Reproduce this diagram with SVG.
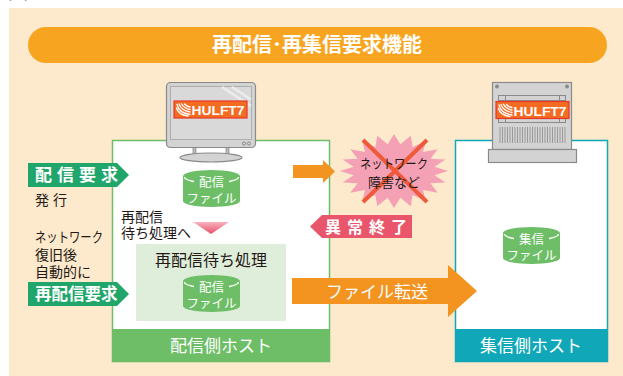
<svg xmlns="http://www.w3.org/2000/svg" width="623" height="376" viewBox="0 0 623 376">
  <style>
    .jp { font-family: "Noto Sans CJK JP", "Noto Sans", sans-serif; }
    .dark { fill: #231815; }
    .wt { fill: #ffffff; }
    .b { font-weight: bold; }
    .cylbody { fill: #6DBE67; }
    .rim { fill: none; stroke: #ffffff; stroke-width: 1.3; }
    .gray { fill: #D3D3D3; stroke: #8A8A8A; stroke-width: 1.2; }
    .thin { stroke: #8A8A8A; stroke-width: 1; fill: none; }
    .orange { fill: #F39320; }
    .logo { fill: #F36C21; stroke: #E63828; stroke-width: 1.2; }
    .swoosh { fill: none; stroke: #ffffff; stroke-width: 1.3; stroke-linecap: round; }
    .ftxt { font-size: 12.5px; }
  </style>
  <defs>
    <!-- database cylinder, 57 x 37 -->
    <g id="cyl">
      <path class="cylbody" d="M0,6 A28.5,6 0 0 1 57,6 V31 A28.5,6 0 0 1 0,31 Z"/>
      <path class="rim" d="M1.5,7 A27,6 0 0 0 55.5,7"/>
      <rect class="cylbody" x="11" y="6" width="35" height="14"/>
    </g>
    <!-- HULFT7 badge, 73 x 17 -->
    <g id="hulft">
      <rect class="logo" x="0" y="0" width="73" height="17"/>
      <path class="swoosh" d="M3,3.5 Q5,12 16,13.5"/>
      <path class="swoosh" d="M5,3 Q7.5,9.5 16,11"/>
      <path class="swoosh" d="M7.5,2.8 Q10,7.5 16,8.5"/>
      <path class="swoosh" d="M10.5,3 Q12.5,5.5 16,6"/>
      <path class="swoosh" d="M2.5,7 Q4,13.5 14,15"/>
      <text x="17.5" y="14" class="wt b" font-family="Liberation Sans, Arial, sans-serif" font-size="13" textLength="53" lengthAdjust="spacingAndGlyphs">HULFT7</text>
    </g>
    <linearGradient id="tri" x1="0" y1="0" x2="0" y2="1">
      <stop offset="0" stop-color="#F7B3BF"/>
      <stop offset="1" stop-color="#E9506A"/>
    </linearGradient>
  </defs>

  <!-- page -->
  <rect x="0" y="0" width="623" height="376" fill="#ffffff"/>
  <text x="8" y="-1" class="jp" font-size="20" fill="#444">図</text>
  <rect x="9" y="8" width="614" height="368" fill="#FDE9CB"/>

  <!-- title -->
  <g id="title">
    <rect x="28" y="27" width="579" height="36" rx="18" fill="#F7A520"/>
    <text x="317" y="52" text-anchor="middle" class="jp wt b" font-size="20">再配信･再集信要求機能</text>
  </g>

  <!-- sending host -->
  <g id="host-send">
    <rect x="112.5" y="140.5" width="217" height="221" fill="#ffffff" stroke="#6DBE67" stroke-width="1.5"/>
    <rect x="112" y="329" width="218" height="33" fill="#6DBE67"/>
    <text x="221" y="352" text-anchor="middle" class="jp wt" font-size="17">配信側ホスト</text>
  </g>

  <!-- receiving host -->
  <g id="host-recv">
    <rect x="455.5" y="140.5" width="152" height="221" fill="#ffffff" stroke="#10A8B9" stroke-width="1.5"/>
    <rect x="455" y="329" width="153" height="33" fill="#10A8B9"/>
    <text x="531" y="352" text-anchor="middle" class="jp wt" font-size="17">集信側ホスト</text>
  </g>

  <!-- monitor with HULFT7 -->
  <g id="monitor">
    <rect x="193" y="146" width="3" height="11" fill="#BDBDBD" stroke="#8A8A8A" stroke-width="0.8"/>
    <rect x="226" y="146" width="3" height="11" fill="#BDBDBD" stroke="#8A8A8A" stroke-width="0.8"/>
    <ellipse cx="211" cy="157.5" rx="31" ry="4.5" class="gray"/>
    <rect x="166.5" y="82.5" width="89" height="65" rx="4" class="gray"/>
    <rect x="170.5" y="86.5" width="81" height="53" fill="#D9D9D9" stroke="#A5A5A5" stroke-width="0.8"/>
    <path d="M222,87 L251,106 M232,87 L251,99.5" stroke="#ECECEC" stroke-width="2.5"/>
    <circle cx="244" cy="143.5" r="1.6" class="thin"/>
    <circle cx="249" cy="143.5" r="1.6" class="thin"/>
    <use href="#hulft" x="174" y="101"/>
  </g>

  <!-- server with HULFT7 -->
  <g id="server">
    <rect x="492.5" y="82.5" width="79" height="67" class="gray"/>
    <circle cx="497" cy="86.5" r="2" fill="#8A8A8A"/>
    <circle cx="567" cy="86.5" r="2" fill="#8A8A8A"/>
    <rect x="498.5" y="95.5" width="67" height="27" class="thin"/>
    <path class="thin" d="M498.5,100.5 H565.5 M498.5,117.5 H565.5 M505.5,95.5 V122.5 M559.5,95.5 V122.5"/>
    <path stroke="#8A8A8A" stroke-width="0.8" d="M500,127 V143 M502.5,127 V143 M505,127 V143 M507.5,127 V143 M510,127 V143 M512.5,127 V143 M515,127 V143 M517.5,127 V143 M520,127 V143 M522.5,127 V143 M525,127 V143 M527.5,127 V143 M530,127 V143 M532.5,127 V143 M535,127 V143 M537.5,127 V143 M540,127 V143 M542.5,127 V143 M545,127 V143 M547.5,127 V143 M550,127 V143 M552.5,127 V143 M555,127 V143 M557.5,127 V143 M560,127 V143 M562.5,127 V143 M565,127 V143"/>
    <rect x="488.5" y="149.5" width="88" height="13" class="gray"/>
    <use href="#hulft" x="496" y="101.5"/>
  </g>

  <!-- files -->
  <g id="file-send">
    <use href="#cyl" x="183" y="170"/>
    <text x="211.5" y="187" text-anchor="middle" class="jp wt ftxt">配信</text>
    <text x="211.5" y="202.5" text-anchor="middle" class="jp wt ftxt">ファイル</text>
  </g>

  <g id="wait-box">
    <rect x="136" y="244" width="150" height="77" fill="#DFEEDA"/>
    <text x="211" y="266" text-anchor="middle" class="jp dark" font-size="16">再配信待ち処理</text>
    <use href="#cyl" x="183" y="275"/>
    <text x="211.5" y="292" text-anchor="middle" class="jp wt ftxt">配信</text>
    <text x="211.5" y="307.5" text-anchor="middle" class="jp wt ftxt">ファイル</text>
  </g>

  <g id="file-recv">
    <use href="#cyl" x="503" y="227"/>
    <text x="531.5" y="244" text-anchor="middle" class="jp wt ftxt">集信</text>
    <text x="531.5" y="259.5" text-anchor="middle" class="jp wt ftxt">ファイル</text>
  </g>

  <!-- network failure -->
  <g id="failure">
    <polygon fill="#F4A1B5" points="448,171 434.5,175.2 445.4,182.4 430.5,183.3 437.7,192.7 423,190.1 425.7,200.9 412.6,195.1 410.7,206.2 400.4,197.7 394,208 387.6,197.7 377.3,206.2 375.4,195.1 362.3,200.9 365,190.1 350.3,192.7 357.5,183.3 342.6,182.4 353.5,175.2 340,171 353.5,166.8 342.6,159.6 357.5,158.7 350.3,149.3 365,151.9 362.3,141.1 375.4,146.9 377.3,135.8 387.6,144.3 394,134 400.4,144.3 410.7,135.8 412.6,146.9 425.7,141.1 423,151.9 437.7,149.3 430.5,158.7 445.4,159.6 434.5,166.8"/>
    <path d="M363,140 L427,202 M427,140 L363,202" stroke="#EE5A3A" stroke-width="4"/>
    <text x="394" y="168" text-anchor="middle" class="jp dark" font-size="13" textLength="68" lengthAdjust="spacingAndGlyphs">ネットワーク</text>
    <text x="394" y="187" text-anchor="middle" class="jp dark" font-size="13">障害など</text>
  </g>

  <!-- request tags and notes -->
  <g id="tag-request">
    <polygon fill="#20A66A" points="28,163 117,163 129,175 117,187 28,187"/>
    <text x="35" y="181" class="jp wt b" font-size="17" letter-spacing="5">配信要求</text>
    <text x="35" y="205" class="jp dark" font-size="14" letter-spacing="4">発行</text>
  </g>

  <g id="tag-rerequest">
    <text x="35" y="242" class="jp dark" font-size="14" textLength="68" lengthAdjust="spacingAndGlyphs">ネットワーク</text>
    <text x="35" y="260" class="jp dark" font-size="14">復旧後</text>
    <text x="35" y="277" class="jp dark" font-size="14">自動的に</text>
    <polygon fill="#20A66A" points="28,282 117,282 129,294 117,306 28,306"/>
    <text x="35" y="300" class="jp wt b" font-size="16.5">再配信要求</text>
  </g>

  <g id="tag-abort">
    <polygon fill="#E9566C" points="310,226.5 322,215 412,215 412,238 322,238"/>
    <text x="325" y="232.5" class="jp wt b" font-size="16" letter-spacing="6">異常終了</text>
  </g>

  <g id="note-wait">
    <text x="121" y="222" class="jp dark" font-size="14">再配信</text>
    <text x="121" y="238" class="jp dark" font-size="14">待ち処理へ</text>
  </g>

  <!-- connectors -->
  <g id="connectors">
    <polygon class="orange" points="293,165 323,165 323,160 335,171.5 323,183 323,178 293,178"/>
    <polygon fill="url(#tri)" points="193,222 229,222 211,234"/>
    <polygon class="orange" points="292,278 448,278 448,265 477,291 448,317 448,304 292,304"/>
    <text x="377" y="298" text-anchor="middle" class="jp wt" font-size="17">ファイル転送</text>
  </g>
</svg>
